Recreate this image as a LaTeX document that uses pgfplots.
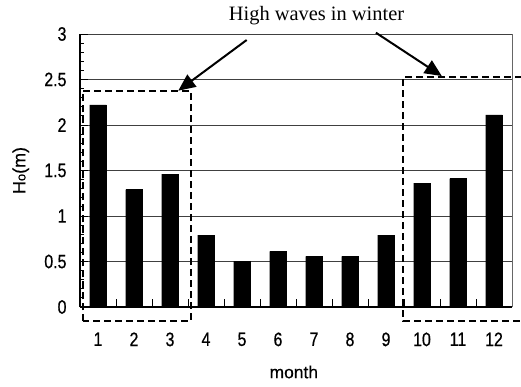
\documentclass[border=0pt]{standalone}
\usepackage{fontspec}
\setmainfont{Liberation Serif}
\newfontfamily\gothic[FakeStretch=0.82,FakeBold=0.6]{Liberation Sans}
\newfontfamily\sans[FakeBold=0.4]{Liberation Sans}
\usepackage{pgfplots}
\pgfplotsset{compat=1.18}
\usetikzlibrary{arrows.meta}
\begin{document}
\begin{tikzpicture}
\path[use as bounding box] (0,0) rectangle (521bp,387bp);
\begin{axis}[
  at={(80bp,80bp)}, anchor=south west,
  scale only axis, width=432bp, height=273bp,
  xmin=0.5, xmax=12.5, ymin=0, ymax=3,
  axis lines*=left,
  axis line style={black, line width=1.1bp},
  clip=false,
  xtick={1.5,2.5,3.5,4.5,5.5,6.5,7.5,8.5,9.5,10.5,11.5,12.5},
  xticklabels={1,2,3,4,5,6,7,8,9,10,11,12},
  x tick label style={xshift=-18bp, yshift=-22bp},
  ytick={0,0.5,1,1.5,2,2.5,3},
  yticklabels={0,0.5,1,1.5,2,2.5,3},
  y tick label style={xshift=-10bp},
  minor y tick num=4,
  major tick length=8bp, minor tick length=4bp,
  tick align=inside,
  ymajorgrids, grid style={black!75, line width=0.9bp},
  tick style={black, line width=0.9bp},
  ticklabel style={font=\gothic\fontsize{19.5}{19.5}\selectfont},
  xlabel={month},
  xlabel style={font=\sans\fontsize{17.5}{17.5}\selectfont, at={(axis description cs:0.495,-0.238)}, anchor=center},
  ylabel={H{\fontsize{13}{13}\selectfont o}(m)},
  ylabel style={font=\sans\fontsize{18}{18}\selectfont, at={(axis description cs:-0.137,0.5)}, anchor=center},
]
\addplot[ybar, fill=black, draw=black, bar width=0.46] coordinates {
(1,2.22) (2,1.29) (3,1.46) (4,0.79) (5,0.505) (6,0.61)
(7,0.557) (8,0.557) (9,0.79) (10,1.36) (11,1.41) (12,2.11)};
\draw[black!60, line width=0.9bp] (axis cs:12.5,0) -- (axis cs:12.5,3);
\draw[black, line width=1.8bp, dash pattern=on 7bp off 4bp]
  (axis cs:0.575,-0.157) rectangle (axis cs:3.575,2.377);
\draw[black, line width=1.8bp, dash pattern=on 7bp off 4bp]
  (axis cs:14,2.53) -| (axis cs:9.48,-0.157) -- (axis cs:14,-0.157);
\draw[-{Triangle[length=17bp,width=15bp]}, line width=2bp]
  (axis cs:5.13,2.934) -- (axis cs:3.23,2.377);
\draw[-{Triangle[length=17bp,width=15bp]}, line width=2bp]
  (axis cs:8.72,3.014) -- (axis cs:10.55,2.538);
\end{axis}
\node[anchor=base, font=\fontsize{20.5}{20.5}\selectfont, inner sep=0pt] at (316.5bp,366.3bp) {High waves in winter};
\end{tikzpicture}
\end{document}
